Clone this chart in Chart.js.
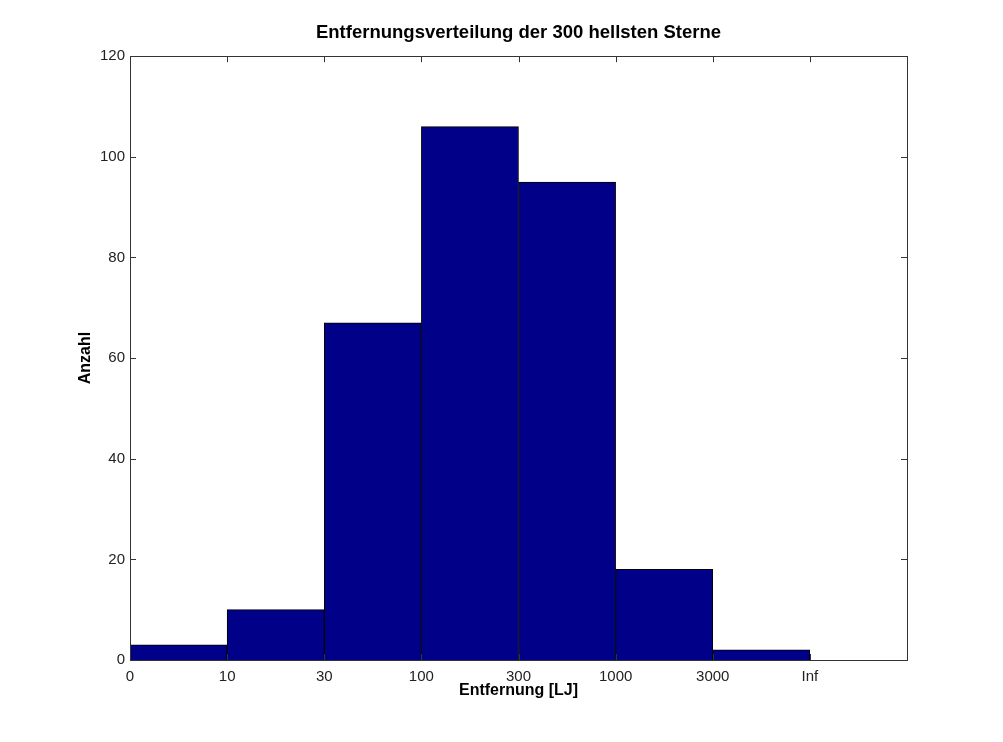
<!DOCTYPE html>
<html lang="de">
<head>
    <meta charset="UTF-8">
    <title>Entfernungsverteilung</title>
    <style>
        body {
            margin: 0;
            padding: 0;
            background: white;
        }
        #wrap {
            width: 1003px;
            height: 742px;
        }
    </style>
</head>
<body>
    <div id="wrap"><canvas id="chart"></canvas></div>

    <script src="https://cdn.jsdelivr.net/npm/chart.js"></script>
    <script>
        // bin edges (tick labels) and star counts per bin
        const edgeLabels = ['0', '10', '30', '100', '300', '1000', '3000', 'Inf'];
        const counts = [3, 10, 67, 106, 95, 18, 2];
        const yMax = 120;
        const yStep = 20;

        const tickFont = { family: 'Liberation Sans, Arial, sans-serif', size: 15 };
        const boldFont = { family: 'Liberation Sans, Arial, sans-serif', size: 16, weight: 'bold' };
        const titleFont = { family: 'Liberation Sans, Arial, sans-serif', size: 18.5, weight: 'bold' };

        // MATLAB style frame with inward ticks on all four sides
        const framePlugin = {
            id: 'frame',
            afterDraw(chart) {
                const { ctx, chartArea: a, scales } = chart;
                ctx.save();
                ctx.strokeStyle = '#333';
                ctx.lineWidth = 1;
                ctx.beginPath();
                scales.x.ticks.forEach(t => {
                    const px = Math.round(scales.x.getPixelForValue(t.value)) + 0.5;
                    ctx.moveTo(px, a.bottom); ctx.lineTo(px, a.bottom - 6);
                    ctx.moveTo(px, a.top); ctx.lineTo(px, a.top + 6);
                });
                scales.y.ticks.forEach(t => {
                    const py = Math.round(scales.y.getPixelForValue(t.value)) + 0.5;
                    ctx.moveTo(a.left, py); ctx.lineTo(a.left + 6, py);
                    ctx.moveTo(a.right, py); ctx.lineTo(a.right - 6, py);
                });
                ctx.stroke();
                ctx.strokeRect(Math.round(a.left) + 0.5, Math.round(a.top) + 0.5,
                    Math.round(a.right - a.left), Math.round(a.bottom - a.top));
                ctx.restore();
            }
        };

        new Chart(document.getElementById('chart'), {
            type: 'bar',
            data: {
                datasets: [{
                    data: counts.map((c, i) => ({ x: i + 0.5, y: c })),
                    backgroundColor: '#000088',
                    borderColor: '#000000',
                    borderWidth: 1,
                    barPercentage: 1,
                    categoryPercentage: 1
                }]
            },
            options: {
                responsive: true,
                maintainAspectRatio: false,
                animation: false,
                layout: { padding: { left: 76, right: 96, top: 0, bottom: 42 } },
                plugins: {
                    legend: { display: false },
                    tooltip: { enabled: false },
                    title: {
                        display: true,
                        fullSize: false,
                        text: 'Entfernungsverteilung der 300 hellsten Sterne',
                        color: '#000',
                        font: titleFont,
                        padding: { top: 22, bottom: 12 }
                    }
                },
                scales: {
                    x: {
                        type: 'linear',
                        offset: false,
                        min: 0,
                        max: edgeLabels.length,
                        grid: { display: false, drawTicks: false },
                        border: { display: false },
                        ticks: {
                            stepSize: 1,
                            padding: 8,
                            color: '#222',
                            font: tickFont,
                            maxRotation: 0,
                            autoSkip: false,
                            callback: v => edgeLabels[v] ?? ''
                        },
                        title: {
                            display: true,
                            text: 'Entfernung [LJ]',
                            color: '#000',
                            font: boldFont,
                            padding: 0
                        },
                        afterFit: s => { s.height = 40; }
                    },
                    y: {
                        min: 0,
                        max: yMax,
                        grid: { display: false, drawTicks: false },
                        border: { display: false },
                        ticks: {
                            stepSize: yStep,
                            padding: 5,
                            color: '#222',
                            font: tickFont
                        },
                        title: {
                            display: true,
                            text: 'Anzahl',
                            color: '#000',
                            font: boldFont,
                            padding: 0
                        },
                        afterFit: s => { s.width = 54; }
                    }
                }
            },
            plugins: [framePlugin]
        });
    </script>
</body>
</html>
